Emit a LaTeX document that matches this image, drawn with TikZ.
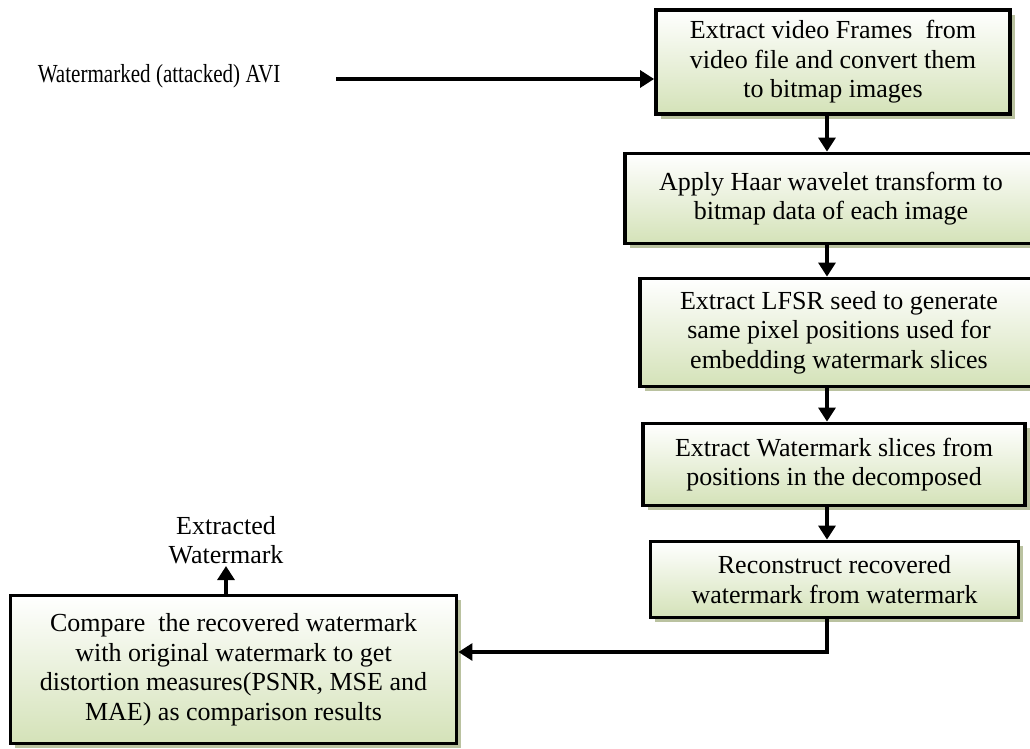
\documentclass[tikz,border=0pt]{standalone}
\usepackage{fontspec}
\setmainfont{Liberation Serif}
\usetikzlibrary{arrows.meta,shadows}
\definecolor{stagegreen}{RGB}{212,226,184}
\definecolor{stageshadow}{RGB}{186,194,160}

\begin{document}
\begin{tikzpicture}[x=0.025cm,y=-0.025cm,
	stage/.style={draw,line width=2.6pt,top color=white,bottom color=stagegreen,align=center,inner sep=0pt,
		font=\fontsize{18.5}{21}\selectfont,general shadow={fill=stageshadow,shadow xshift=3.5pt,shadow yshift=-3.5pt}},
	flow/.style={-{Triangle[length=10pt,width=12pt]},line width=2.6pt}]
	\useasboundingbox (0,0) rectangle (1030,748);
	\node [stage,minimum width=8.85cm,minimum height=2.6cm] (frames) at (833,62) {Extract video Frames~ from\\video file and convert them\\to bitmap images};
	\node [stage,minimum width=10.3cm,minimum height=2.25cm] (haar) at (831,198.5) {Apply Haar wavelet transform to\\bitmap data of each image};
	\node [stage,minimum width=9.95cm,minimum height=2.7cm] (seed) at (839,332.5) {Extract LFSR seed to generate\\same pixel positions used for\\embedding watermark slices};
	\node [stage,minimum width=9.55cm,minimum height=2.05cm] (slices) at (834,464.5) {Extract Watermark slices from\\positions in the decomposed};
	\node [stage,minimum width=9.2cm,minimum height=1.9cm] (rebuild) at (834.5,579.5) {Reconstruct recovered\\watermark from watermark};
	\node [stage,minimum width=11.15cm,minimum height=3.7cm] (result) at (233.5,669.5) {Compare~ the recovered watermark\\with original watermark to get\\distortion measures(PSNR, MSE and\\MAE) as comparison results};
	\node [font=\fontsize{18.5}{21}\selectfont,xscale=0.81,transform shape] (source) at (159,76) {Watermarked (attacked) AVI};
	\node [font=\fontsize{18.5}{21}\selectfont,align=center,anchor=south,inner sep=1pt] (extracted) at (226,566) {Extracted\\Watermark};
	\coordinate (srcend) at (336,79);
	\coordinate (spine) at (827,0);
	\coordinate (bend) at (827,652);
	\draw [flow] (srcend) -- (srcend -| frames.west);
	\draw [flow] (frames.south -| spine) -- (haar.north -| spine);
	\draw [flow] (haar.south -| spine) -- (seed.north -| spine);
	\draw [flow] (seed.south -| spine) -- (slices.north -| spine);
	\draw [flow] (slices.south -| spine) -- (rebuild.north -| spine);
	\draw [flow] (rebuild.south -| spine) -- (bend) -- (bend -| result.east);
	\draw [flow] (result.north -| extracted.south) -- (extracted.south);
\end{tikzpicture}
\end{document}
